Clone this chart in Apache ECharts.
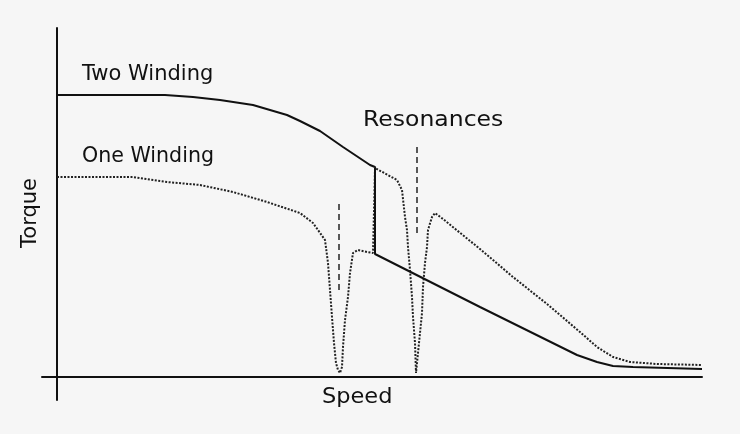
<!DOCTYPE html>
<html>
<head>
<meta charset="utf-8">
<script src="https://cdn.jsdelivr.net/npm/echarts@6/dist/echarts.min.js"></script>
<style>
  html, body { margin: 0; padding: 0; background: #f6f6f6; }
  #chart { width: 740px; height: 434px; }
</style>
</head>
<body>
<div id="chart"></div>
<script>
// 数据 (speed, torque) 读自原图
var twoWindingSpeed = [0, 108, 136, 163, 196, 230, 243, 263, 286, 313, 318, 318, 423, 520, 540, 556, 576, 578, 645];
var twoWindingTorque = [282, 282, 280, 277, 272, 262, 256, 246, 230, 212, 210, 123, 70, 22, 15, 11, 10, 8, 8];

var oneWindingSpeed = [0, 76, 110, 143, 176, 193, 210, 243, 256, 261, 268, 271, 273, 275, 277, 279, 281, 283, 285, 286, 288, 291, 293,
    296, 301, 310, 316, 318, 318, 340, 345, 348, 350, 351, 353, 355, 356, 358, 359, 361, 362, 365, 366, 368, 370, 371, 375, 378,
    386, 423, 456, 490, 523, 540, 556, 573, 600, 645];
var oneWindingTorque = [200, 200, 195, 192, 185, 180, 175, 164, 154, 147, 137, 114, 87, 60, 34, 14, 7, 4, 10, 30, 57, 80, 104,
    124, 127, 125, 124, 123, 209, 197, 187, 160, 147, 130, 107, 80, 60, 34, 4, 4, 34, 64, 90, 114, 130, 147, 160, 164,
    158, 128, 100, 73, 45, 30, 20, 15, 13, 12];

var resonanceSpeed = [282, 360];
var resonanceTop = [177, 232];
var resonanceBottom = [87, 144];

function pairs(xs, ys) {
    return xs.map(function (x, i) { return [x, ys[i]]; });
}

(function () {
    var myChart = echarts.init(document.getElementById("chart"));
    var font = "21px DejaVu Sans";

    var series = [
        {
            name: "Two Winding",
            type: "line",
            symbol: "none",
            data: pairs(twoWindingSpeed, twoWindingTorque),
            lineStyle: { color: "#111", width: 2 },
            z: 3,
        },
        {
            name: "One Winding",
            type: "line",
            symbol: "none",
            data: pairs(oneWindingSpeed, oneWindingTorque),
            lineStyle: { color: "#222", width: 2, type: [2, 1.5] },
            z: 2,
        },
    ];
    // 共振虚线
    resonanceSpeed.forEach(function (s, i) {
        series.push({
            name: "Resonance " + (i + 1),
            type: "line",
            symbol: "none",
            data: [[s, resonanceBottom[i]], [s, resonanceTop[i]]],
            lineStyle: { color: "#222", width: 1.5, type: [6, 4] },
        });
    });

    var option = {
        backgroundColor: "#f6f6f6",
        animation: false,
        grid: { left: 42, right: 38, top: 28, bottom: 34 },
        xAxis: {
            type: "value",
            min: -15,
            max: 645,
            axisLine: { onZero: true, lineStyle: { color: "#111", width: 2 } },
            axisTick: { show: false },
            axisLabel: { show: false },
            splitLine: { show: false },
        },
        yAxis: {
            type: "value",
            min: -23,
            max: 349,
            axisLine: { show: true, onZero: true, lineStyle: { color: "#111", width: 2 } },
            axisTick: { show: false },
            axisLabel: { show: false },
            splitLine: { show: false },
        },
        graphic: [
            { type: "text", x: 82, y: 64, style: { text: "Two Winding", font: font, fill: "#111" } },
            { type: "text", x: 82, y: 146, scaleX: 0.98, style: { text: "One Winding", font: font, fill: "#111" } },
            { type: "text", x: 363, y: 110, scaleX: 1.12, style: { text: "Resonances", font: font, fill: "#111" } },
            { type: "text", x: 322, y: 387, scaleX: 1.07, style: { text: "Speed", font: font, fill: "#111" } },
            {
                type: "text", x: 31, y: 213, rotation: Math.PI / 2,
                style: { text: "Torque", font: font, fill: "#111", align: "center", verticalAlign: "middle" },
            },
        ],
        series: series,
    };
    myChart.setOption(option);
})();
</script>
</body>
</html>
